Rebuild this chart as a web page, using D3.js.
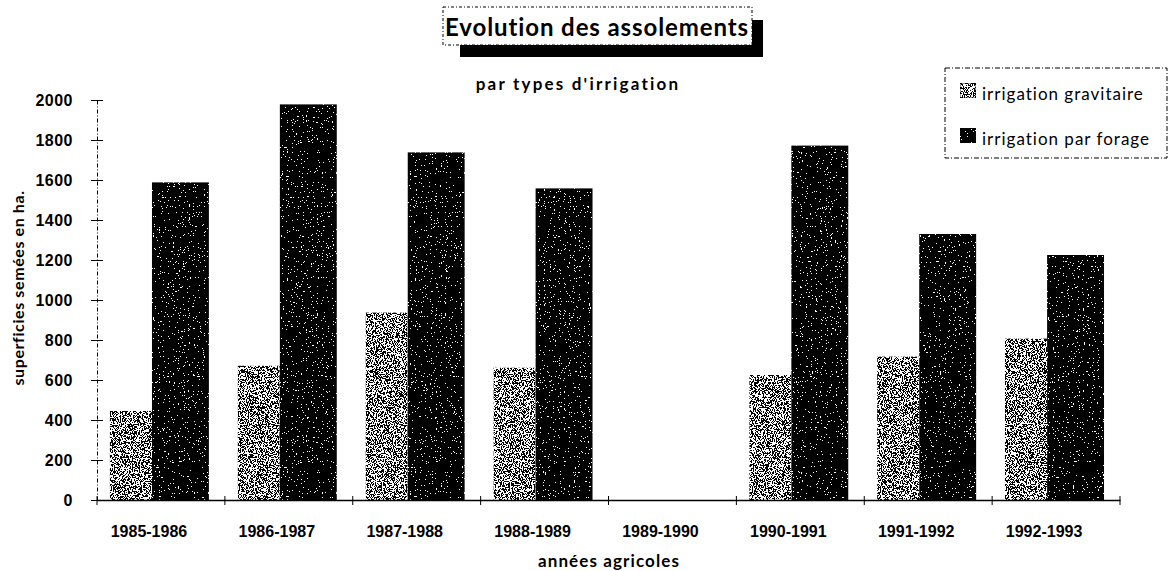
<!DOCTYPE html>
<html lang="fr">
<head>
  <meta charset="UTF-8" />
  <title>Evolution des assolements</title>
  <script src="https://d3js.org/d3.v7.min.js"></script>
  <style>
    body { margin: 0; background: #fff; }
    svg { display: block; font-family: Lato, "Open Sans", sans-serif; }
  </style>
</head>
<body>
  <svg width="1170" height="571" id="chart"></svg>

  <script>
    const svg = d3.select("#chart");

    const years = ["1985-1986", "1986-1987", "1987-1988", "1988-1989",
                   "1989-1990", "1990-1991", "1991-1992", "1992-1993"];
    const gravitaire = [445, 672, 938, 662, 0, 625, 718, 808];
    const forage = [1588, 1978, 1738, 1558, 0, 1772, 1330, 1225];
    const yTicks = [0, 200, 400, 600, 800, 1000, 1200, 1400, 1600, 1800, 2000];
    const seriesNames = ["irrigation gravitaire", "irrigation par forage"];

    const x = d3.scaleBand().domain(years).range([97, 1120]).padding(0);
    const y = d3.scaleLinear().domain([0, 2000]).range([500, 100]);
    // position of each series inside a band (fraction of the band)
    const inner = d3.scaleLinear().domain([0, 1]).range([0, x.bandwidth()]);
    const slots = [[0.10, 0.43], [0.43, 0.875]];

    // textures
    const defs = svg.append("defs");
    const dark = defs.append("filter").attr("id", "fDark")
      .attr("x", 0).attr("y", 0).attr("width", 1).attr("height", 1);
    dark.append("feTurbulence").attr("type", "fractalNoise")
      .attr("baseFrequency", 0.8).attr("numOctaves", 2).attr("seed", 4).attr("result", "n");
    dark.append("feColorMatrix").attr("in", "n").attr("type", "matrix")
      .attr("values", "0 0 0 0 1  0 0 0 0 1  0 0 0 0 1  1 0 0 0 0").attr("result", "a");
    dark.append("feComponentTransfer").attr("in", "a").attr("result", "t")
      .append("feFuncA").attr("type", "discrete").attr("tableValues", "0 0 0 0 0 0 0 1 1 1");
    dark.append("feComposite").attr("in", "t").attr("in2", "SourceGraphic")
      .attr("operator", "in").attr("result", "spots");
    const dm = dark.append("feMerge");
    dm.append("feMergeNode").attr("in", "SourceGraphic");
    dm.append("feMergeNode").attr("in", "spots");

    const light = defs.append("filter").attr("id", "fLight")
      .attr("x", 0).attr("y", 0).attr("width", 1).attr("height", 1);
    light.append("feTurbulence").attr("type", "fractalNoise")
      .attr("baseFrequency", "1.1 0.7").attr("numOctaves", 2).attr("seed", 9).attr("result", "n");
    light.append("feColorMatrix").attr("in", "n").attr("type", "matrix")
      .attr("values", "0 0 0 0 0  0 0 0 0 0  0 0 0 0 0  1 0 0 0 0").attr("result", "a");
    light.append("feComponentTransfer").attr("in", "a").attr("result", "t")
      .append("feFuncA").attr("type", "discrete").attr("tableValues", "1 1 1 1 1 0 0 0 0 0");
    light.append("feComposite").attr("in", "t").attr("in2", "SourceGraphic")
      .attr("operator", "in").attr("result", "spots");
    const lm = light.append("feMerge");
    lm.append("feMergeNode").attr("in", "SourceGraphic");
    lm.append("feMergeNode").attr("in", "spots");

    const fills = [{ fill: "#fff", filter: "url(#fLight)" }, { fill: "#000", filter: "url(#fDark)" }];

    // title with shadow box
    svg.append("rect").attr("x", 460).attr("y", 20).attr("width", 303).attr("height", 37).attr("fill", "#000");
    svg.append("rect").attr("x", 443).attr("y", 7).attr("width", 309).attr("height", 38)
      .attr("fill", "#fff").attr("stroke", "#000").attr("stroke-width", 1)
      .attr("stroke-dasharray", "3 2 1 2");
    svg.append("text").attr("x", 597).attr("y", 36).attr("text-anchor", "middle")
      .attr("font-size", 24).attr("font-weight", "bold").attr("letter-spacing", 0.9)
      .text("Evolution des assolements");
    svg.append("text").attr("x", 578).attr("y", 90).attr("text-anchor", "middle")
      .attr("font-size", 17).attr("font-weight", "bold").attr("letter-spacing", 2.2)
      .text("par types d'irrigation");

    // bars
    const groups = svg.append("g").selectAll("g")
      .data(years).join("g")
      .attr("transform", d => `translate(${x(d)},0)`);

    [gravitaire, forage].forEach((vals, s) => {
      groups.filter((d, i) => vals[i] > 0)
        .append("rect")
        .attr("x", inner(slots[s][0]))
        .attr("width", inner(slots[s][1]) - inner(slots[s][0]))
        .attr("y", (d) => y(vals[years.indexOf(d)]))
        .attr("height", (d) => y(0) - y(vals[years.indexOf(d)]))
        .attr("fill", fills[s].fill)
        .attr("filter", fills[s].filter);
    });

    // y axis
    const yAxis = svg.append("g").attr("transform", "translate(97,0)")
      .call(d3.axisLeft(y).tickValues(yTicks).tickSize(0).tickPadding(24).tickFormat(d3.format("d")));
    yAxis.select(".domain").attr("stroke", "#000").attr("stroke-dasharray", "4 2 1 2");
    yAxis.selectAll(".tick text").attr("font-size", 16).attr("font-weight", "bold")
      .attr("letter-spacing", 0.5).attr("fill", "#000");
    yAxis.selectAll(".tick").append("line")
      .attr("x1", -6).attr("x2", 6).attr("stroke", "#000");

    // x axis
    const xAxis = svg.append("g").attr("transform", "translate(0,500)")
      .call(d3.axisBottom(x).tickSize(0).tickPadding(26));
    xAxis.select(".domain").attr("stroke", "#000").attr("stroke-width", 1.6);
    xAxis.selectAll(".tick text").attr("font-size", 16).attr("font-weight", "bold")
      .attr("letter-spacing", 0).attr("dx", -12).attr("fill", "#000");
    xAxis.selectAll(".sep")
      .data(years.concat(["end"])).join("line")
      .attr("class", "sep")
      .attr("x1", (d, i) => 97 + i * x.bandwidth())
      .attr("x2", (d, i) => 97 + i * x.bandwidth())
      .attr("y1", -4).attr("y2", 5).attr("stroke", "#000");

    svg.append("text").attr("x", 609).attr("y", 567).attr("text-anchor", "middle")
      .attr("font-size", 17).attr("font-weight", "bold").attr("letter-spacing", 1.1)
      .text("années agricoles");
    svg.append("text").attr("transform", "translate(24,288) rotate(-90)")
      .attr("text-anchor", "middle").attr("font-size", 16).attr("font-weight", "bold")
      .attr("letter-spacing", 0.6)
      .text("superficies semées en ha.");

    // legend
    svg.append("rect").attr("x", 945).attr("y", 68).attr("width", 222).attr("height", 90)
      .attr("fill", "none").attr("stroke", "#000").attr("stroke-dasharray", "5 2 1 2");
    const leg = svg.append("g").selectAll("g").data(seriesNames).join("g")
      .attr("transform", (d, i) => `translate(960,${83 + i * 45})`);
    leg.append("rect").attr("width", 16).attr("height", 15)
      .attr("fill", (d, i) => fills[i].fill).attr("filter", (d, i) => fills[i].filter)
      .attr("stroke", "#000").attr("stroke-width", 0.8);
    leg.append("text").attr("x", 22).attr("y", 17)
      .attr("font-size", 17).attr("letter-spacing", 1.0).text(d => d);
  </script>
</body>
</html>
